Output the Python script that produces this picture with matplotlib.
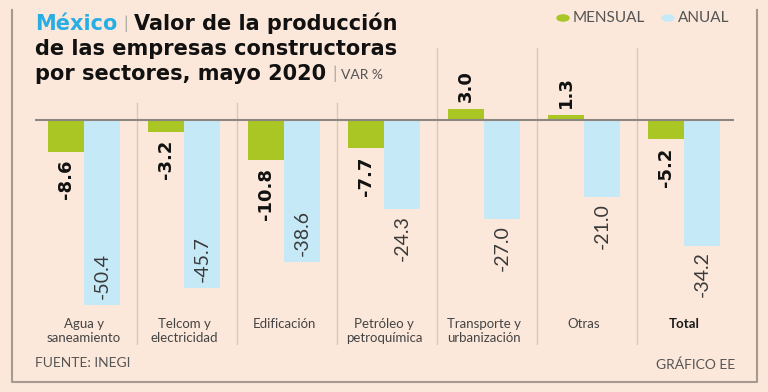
import matplotlib
matplotlib.use("Agg")
import matplotlib.pyplot as plt
from matplotlib.transforms import blended_transform_factory
from matplotlib.lines import Line2D
from matplotlib.patches import Circle

# ---- data ----
categories = ["Agua y\nsaneamiento", "Telcom y\nelectricidad", "Edificación",
              "Petróleo y\npetroquímica", "Transporte y\nurbanización", "Otras", "Total"]
mensual = [-8.6, -3.2, -10.8, -7.7, 3.0, 1.3, -5.2]
anual = [-50.4, -45.7, -38.6, -24.3, -27.0, -21.0, -34.2]

BG = "#FCE8DA"
GREEN = "#A9C624"
BLUE = "#C6E9F8"
CYAN = "#29AEE4"
FRAME = "#A69A90"
FONT = "Lato"
TFONT = "DejaVu Sans"

W, H = 768, 392
fig = plt.figure(figsize=(W / 100, H / 100), dpi=100, facecolor=BG)

def fx(x):
    return x / W

def fy(y):
    return 1 - y / H

# axes: x 35..734, y 48..345 px
ax_top, ax_bot = 48, 345
ax = fig.add_axes([fx(35), fy(ax_bot), fx(734) - fx(35), (ax_bot - ax_top) / H])
ax.set_facecolor("none")
scale = 3.67
zero_px = 120
ax.set_xlim(-0.49, 6.5)
ax.set_ylim(-(ax_bot - zero_px) / scale, (zero_px - ax_top) / scale)
for s in ax.spines.values():
    s.set_visible(False)
ax.set_xticks([])
ax.set_yticks([])

# separators
for i in range(6):
    ymax = 1.0 if i >= 3 else (ax_bot - 103) / (ax_bot - ax_top)
    ax.axvline(i + 0.53, ymin=0, ymax=ymax, color="#D9C9BD", lw=1, zorder=0)

bw = 0.36
xs = list(range(len(categories)))
ax.bar([x - bw / 2 for x in xs], mensual, width=bw, color=GREEN, zorder=2)
ax.bar([x + bw / 2 for x in xs], anual, width=bw, color=BLUE, zorder=2)
ax.axhline(0, color="#8C8680", lw=1.5, zorder=3)

# value labels
for x, v in zip(xs, mensual):
    if v < 0:
        ax.annotate(f"{v:.1f}", (x - bw / 2, v), xytext=(0, -6), textcoords="offset points",
                    rotation=90, ha="center", va="top", fontsize=13, fontweight="bold",
                    family=TFONT, color="#111111")
    else:
        ax.annotate(f"{v:.1f}", (x - bw / 2, v), xytext=(0, 5), textcoords="offset points",
                    rotation=90, ha="center", va="bottom", fontsize=13, fontweight="bold",
                    family=TFONT, color="#111111")
for x, v in zip(xs, anual):
    if v < -35:
        ax.annotate(f"{v:.1f}", (x + bw / 2, v), xytext=(0, 4), textcoords="offset points",
                    rotation=90, ha="center", va="bottom", fontsize=14, fontweight="normal",
                    family=FONT, color="#3a3a3a")
    else:
        ax.annotate(f"{v:.1f}", (x + bw / 2, v), xytext=(0, -4), textcoords="offset points",
                    rotation=90, ha="center", va="top", fontsize=14, fontweight="normal",
                    family=FONT, color="#3a3a3a")

# category labels
tr = blended_transform_factory(ax.transData, fig.transFigure)
for x, c in zip(xs, categories):
    bold = c == "Total"
    ax.text(x, fy(318), c, transform=tr, ha="center", va="top", fontsize=9.5,
            family=FONT, color="#1a1a1a" if bold else "#444444",
            fontweight="bold" if bold else "normal", linespacing=1.15)

# frame
fig.add_artist(Line2D([fx(12), fx(12), fx(757), fx(757)], [fy(10), fy(382), fy(382), fy(10)],
                      color=FRAME, lw=1.5, transform=fig.transFigure))

# title
renderer = fig.canvas.get_renderer()

def put(x, y, s, family=TFONT, **kw):
    t = fig.text(fx(x), fy(y), s, va="baseline", ha="left", family=family, **kw)
    bb = t.get_window_extent(renderer)
    return bb.x1

tsize = 15
x = put(35, 30, "México", fontsize=tsize, fontweight="bold", color=CYAN)
x = put(x + 6, 29, "|", family=FONT, fontsize=tsize - 2, fontweight="normal", color="#aaaaaa")
put(x + 6, 30, "Valor de la producción", fontsize=tsize, fontweight="bold", color="#111111")
put(35, 55, "de las empresas constructoras", fontsize=tsize, fontweight="bold", color="#111111")
x = put(35, 80, "por sectores, mayo 2020", fontsize=tsize, fontweight="bold", color="#111111")
x = put(x + 6, 79, "|", family=FONT, fontsize=tsize - 2, fontweight="normal", color="#aaaaaa")
put(x + 4, 79, "VAR %", family=FONT, fontsize=10, fontweight="normal", color="#555555")

# legend
for cx, col, lab in [(563, GREEN, "MENSUAL"), (668, BLUE, "ANUAL")]:
    fig.add_artist(Circle((fx(cx), fy(18)), radius=6 / W, color=col, transform=fig.transFigure))
    fig.text(fx(cx + 10), fy(18), lab, va="center", ha="left", fontsize=11,
             family=FONT, fontweight="normal", color="#555555")

# footer
fig.text(fx(35), fy(363), "FUENTE: INEGI", va="center", ha="left", fontsize=10,
         family=FONT, color="#555555")
fig.text(fx(735), fy(365), "GRÁFICO EE", va="center", ha="right", fontsize=10,
         family=FONT, color="#555555")

fig.savefig("out.png", dpi=100, facecolor=BG)
